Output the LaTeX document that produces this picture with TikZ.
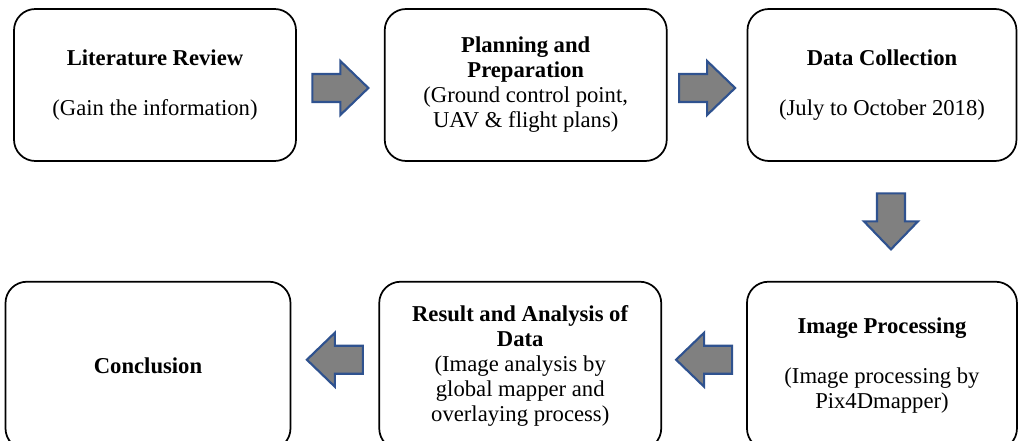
\documentclass[tikz,border=0pt]{standalone}
\usepackage{fontspec}
\setmainfont{Liberation Serif}
\usepackage{tikz}
\usetikzlibrary{shapes,arrows,positioning,calc}
\usepackage{xcolor}
\definecolor{arrowgray}{RGB}{128,128,128}
\definecolor{arrowblue}{RGB}{47,82,143}

\begin{document}
\begin{tikzpicture}[x=0.75pt, y=-0.75pt]
\tikzstyle{box} = [rectangle, rounded corners=16pt, draw=black, line width=1.3pt, minimum width=211.5pt, minimum height=114pt, align=center, inner sep=0pt, font=\fontsize{17}{18.75}\selectfont];
\tikzstyle{low} = [minimum height=126pt];
\tikzstyle{flow} = [fill=arrowgray, draw=arrowblue, line width=1.6pt, line join=miter];
\tikzset{blockarrow/.pic={\draw[flow] (-28,-14) -- (0,-14) -- (0,-27) -- (28,0) -- (0,27) -- (0,14) -- (-28,14) -- cycle;}}

\useasboundingbox (0,0) rectangle (1019,441);

\node (lit) [box] at (155,85) {\textbf{Literature Review}\\[18.75pt](Gain the information)};
\node (plan) [box, right=65.25pt of lit] {\textbf{Planning and}\\\textbf{Preparation}\\(Ground control point,\\UAV \& flight plans)};
\node (data) [box, minimum width=201.75pt, right=59.25pt of plan] {\textbf{Data Collection}\\[18.75pt](July to October 2018)};
\node (img) [box, low, minimum width=202.5pt, below=89.25pt of data] {\textbf{Image Processing}\\[18.75pt](Image processing by\\Pix4Dmapper)};
\node (res) [box, low, left=63pt of img] {\textbf{Result and Analysis of}\\\textbf{Data}\\(Image analysis by\\global mapper and\\overlaying process)};
\node (conc) [box, low, minimum width=213.75pt, left=65.25pt of res] {\textbf{Conclusion}};

\pic at ($(lit.east)!0.5!(plan.west)+(0,3)$) {blockarrow};
\pic at ($(plan.east)!0.5!(data.west)+(0,3)$) {blockarrow};
\pic[rotate=-90] at ($(data.south)!0.5!(img.north)+(9,0)$) {blockarrow};
\pic[rotate=180] at ($(img.west)!0.5!(res.east)+(0,-6)$) {blockarrow};
\pic[rotate=180] at ($(res.west)!0.5!(conc.east)+(0,-6)$) {blockarrow};
\end{tikzpicture}
\end{document}
